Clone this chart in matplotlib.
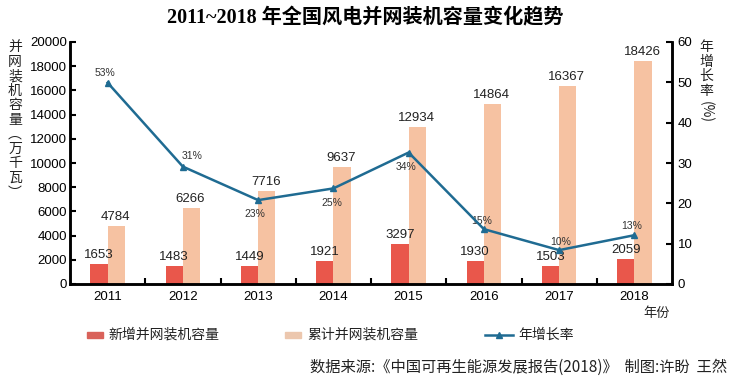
import numpy as np
import matplotlib
matplotlib.use("Agg")
import matplotlib.pyplot as plt
from matplotlib.patches import Rectangle
from matplotlib.lines import Line2D

plt.rcParams['font.family'] = ['Liberation Sans', 'Noto Sans CJK SC', 'DejaVu Sans']

## Data ##
years = ["2011", "2012", "2013", "2014", "2015", "2016", "2017", "2018"]
new_cap = [1653, 1483, 1449, 1921, 3297, 1930, 1503, 2059]
total_cap = [4784, 6266, 7716, 9637, 12934, 14864, 16367, 18426]
# growth rate as drawn on the chart, and its printed labels
rate = [49.9, 29.1, 20.8, 23.7, 32.6, 13.6, 8.4, 12.1]
rate_labels = ["53%", "31%", "23%", "25%", "34%", "15%", "10%", "13%"]
## Data ##

red = "#e9574b"
peach = "#f6c2a2"
blue = "#1f6b92"
cjk = ['Noto Sans CJK SC', 'DejaVu Sans']

fig = plt.figure(figsize=(7.35, 3.83), dpi=100)
ax = fig.add_axes([70 / 735, 1 - 284 / 383, 602 / 735, 242 / 383])
ax2 = ax.twinx()

x = np.arange(len(years))
w = 0.23
ax.bar(x - w / 2, new_cap, w, color=red, zorder=2)
ax.bar(x + w / 2, total_cap, w, color=peach, zorder=2)

for xi, v in zip(x, new_cap):
    ax.annotate(str(v), (xi - w / 2, v), xytext=(0, 3), textcoords="offset pixels",
                ha="center", va="bottom", fontsize=9.5, color="#222222")
for xi, v in zip(x, total_cap):
    ax.annotate(str(v), (xi + w / 2, v), xytext=(-1, 3), textcoords="offset pixels",
                ha="center", va="bottom", fontsize=9.5, color="#222222")

ax2.plot(x, rate, color=blue, lw=1.8, marker="^", ms=5, zorder=5)
# offsets of the percent labels, in pixels
offs = [(-3, 10), (9, 11), (-3, -14), (-1, -15), (-3, -14), (-2, 8), (2, 8), (-3, 9)]
for xi, v, lab, (dx, dy) in zip(x, rate, rate_labels, offs):
    ax2.annotate(lab, (xi, v), xytext=(dx, dy), textcoords="offset pixels",
                 ha="center", va="center", fontsize=7.5, color="#333333")

ax.set_xlim(-0.5, len(years) - 0.5)
ax.set_ylim(0, 20000)
ax.set_yticks(np.arange(0, 20001, 2000))
ax2.set_ylim(0, 60)
ax2.set_yticks(np.arange(0, 61, 10))
ax.set_xticks(x)
ax.set_xticklabels(years)
ax.set_xticks(x[:-1] + 0.5, minor=True)

ax.tick_params(axis="x", which="major", length=0, pad=5, labelsize=9.5)
ax.tick_params(axis="x", which="minor", direction="in", length=4, width=1.5)
ax.tick_params(axis="y", direction="in", length=4, width=1.5, labelsize=9.5, pad=2)
ax2.tick_params(axis="y", direction="in", length=4, width=1.5, labelsize=9.5, pad=4)

for a in (ax, ax2):
    a.spines["top"].set_visible(False)
    for s in ("left", "right", "bottom"):
        a.spines[s].set_linewidth(1.8)

# title
fig.text(0.497, 1 - 18 / 383, "2011~2018 年全国风电并网装机容量变化趋势",
         ha="center", va="center", fontsize=14.5, fontweight="bold",
         family=['Liberation Serif', 'Noto Sans CJK SC'])

# vertical axis titles
fig.text(15 / 735, 1 - 40 / 383, "\n".join("并网装机容量︵万千瓦︶"), ha="center", va="top",
         fontsize=10, family=cjk, linespacing=1.05, color="#222222")
fig.text(706 / 735, 1 - 40 / 383, "\n".join("年增长率"), ha="center", va="top",
         fontsize=10, family=cjk, linespacing=1.05, color="#222222")
fig.text(706 / 735, 1 - 112 / 383, "(%)", ha="center", va="center", rotation=-90,
         fontsize=10, family=cjk, color="#222222")

fig.text(657 / 735, 1 - 314 / 383, "年份", ha="center", va="center", fontsize=9.5,
         family=cjk, color="#222222")

# legend
ly = 1 - 335 / 383
fig.add_artist(Rectangle((87 / 735, ly - 3 / 383), 16 / 735, 6 / 383,
                         transform=fig.transFigure, color="#d9625a"))
fig.text(108 / 735, ly, "新增并网装机容量", va="center", fontsize=10, family=cjk, color="#222222")
fig.add_artist(Rectangle((285 / 735, ly - 3 / 383), 16 / 735, 6 / 383,
                         transform=fig.transFigure, color="#ecc7ae"))
fig.text(307 / 735, ly, "累计并网装机容量", va="center", fontsize=10, family=cjk, color="#222222")
fig.add_artist(Line2D([485 / 735, 499 / 735, 513 / 735], [ly, ly, ly], transform=fig.transFigure,
                      color=blue, lw=1.8, marker="^", ms=4, markevery=[1],
                      markerfacecolor=blue))
fig.text(518 / 735, ly, "年增长率", va="center", fontsize=10, family=cjk, color="#222222")

fig.text(727 / 735, 1 - 367 / 383, "数据来源:《中国可再生能源发展报告(2018)》  制图:许盼  王然",
         ha="right", va="center", fontsize=11, family=cjk, color="#222222")

fig.savefig("out.png", dpi=100)
